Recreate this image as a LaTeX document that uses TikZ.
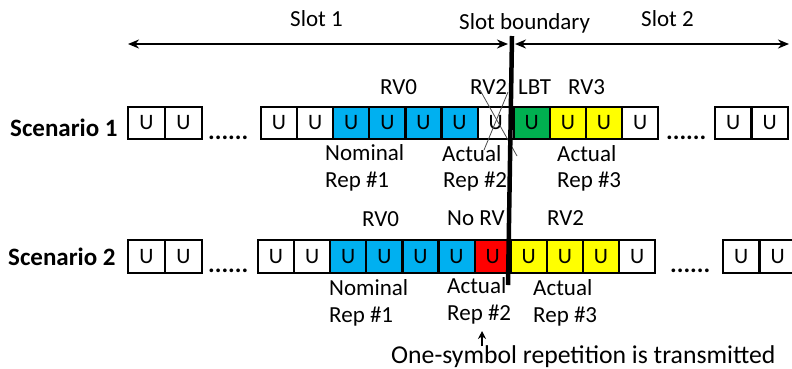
\documentclass[tikz,border=0pt]{standalone}
\usepackage{fontspec}
\setmainfont{Carlito}
\usetikzlibrary{arrows.meta}
\definecolor{cblue}{HTML}{00B0F0}
\definecolor{cgreen}{HTML}{00B050}
\definecolor{cyellow}{HTML}{FFFF00}
\definecolor{cred}{HTML}{FF0000}
\tikzset{
  cell/.style={draw=black, line width=2.2pt, minimum width=#1, minimum height=32pt,
    inner sep=0pt, outer sep=0pt, anchor=north west, font=\fontsize{22}{22}\selectfont},
  lbl/.style={inner sep=0pt, anchor=base west, font=\fontsize{23}{23}\selectfont},
  notelbl/.style={inner sep=0pt, anchor=base west, font=\fontsize{25.7}{25.7}\selectfont},
  scen/.style={inner sep=0pt, anchor=base west, font=\fontsize{25}{25}\selectfont\bfseries},
  dots/.style={inner sep=0pt, anchor=base west, font=\fontsize{25}{25}\selectfont\bfseries},
  slotarrow/.style={line width=2.2pt, {Stealth[length=11pt,width=9pt]}-{Stealth[length=11pt,width=9pt]}},
  crossline/.style={line width=0.8pt, draw=black!70},
}
\begin{document}
\begin{tikzpicture}[x=1pt,y=-1pt]
\clip (0,0) rectangle (792,368);
\useasboundingbox (0,0) rectangle (792,368);

% Slot labels and arrows
\node[lbl] (slot1) at (290,26) {Slot 1};
\node[lbl] (slotb) at (459,29) {Slot boundary};
\node[lbl] (slot2) at (641,26) {Slot 2};
\coordinate (a1l) at (128,44);
\coordinate (a1r) at (508,44);
\coordinate (a2l) at (515,44);
\coordinate (a2r) at (789,44);
\draw[slotarrow] (a1l) -- (a1r);
\draw[slotarrow] (a2l) -- (a2r);

% Scenario labels
\node[scen] (sc1) at (10,136) {Scenario 1};
\node[scen] (sc2) at (8,265) {Scenario 2};

% Scenario 1 cells
\foreach \c [count=\i from 0] in {white,white} {
  \node[cell=37pt, fill=\c] (pa\i) at ({128+37*\i},107) {U};
}
\foreach \c [count=\i from 0] in {white,white,cblue,cblue,cblue,cblue,white,cgreen,cyellow,cyellow,white} {
  \node[cell=36.1pt, fill=\c] (ma\i) at ({261+36.1*\i},107) {U};
}
\foreach \c [count=\i from 0] in {white,white} {
  \node[cell=36.5pt, fill=\c] (qa\i) at ({715+36.5*\i},107) {U};
}
\node[dots] (da1) at (208,139) {......};
\node[dots] (da2) at (666,139) {......};

% Scenario 2 cells
\foreach \c [count=\i from 0] in {white,white} {
  \node[cell=37pt, fill=\c, minimum height=33pt] (pb\i) at ({128+37*\i},240) {U};
}
\foreach \c [count=\i from 0] in {white,white,cblue,cblue,cblue,cblue,cred,cyellow,cyellow,cyellow,white} {
  \node[cell=36.1pt, fill=\c, minimum height=33pt] (mb\i) at ({258+36.1*\i},240) {U};
}
\foreach \c [count=\i from 0] in {white,white} {
  \node[cell=36.5pt, fill=\c, minimum height=33pt] (qb\i) at ({723+36.5*\i},240) {U};
}
\node[dots] (db1) at (208,272) {......};
\node[dots] (db2) at (670,272) {......};

% Scenario 1 labels
\node[lbl] (rv0a) at (380,94) {RV0};
\node[lbl] (rv2a) at (470,94) {RV2};
\node[lbl] (lbt) at (518,94) {LBT};
\node[lbl] (rv3a) at (568,94) {RV3};
\node[lbl] (noma) at (325,160) {Nominal};
\node[lbl] (rep1a) at (325,187) {Rep \#1};
\node[lbl] (act2a) at (442,161) {Actual};
\node[lbl] (rep2a) at (443,187) {Rep \#2};
\node[lbl] (act3a) at (557,161) {Actual};
\node[lbl] (rep3a) at (557,187) {Rep \#3};

% crossed-out cell
\coordinate (x1a) at (484,150);
\coordinate (x1b) at (508,92);
\coordinate (x2a) at (480,90);
\coordinate (x2b) at (517,156);
\draw[crossline] (x1a) -- (x1b);
\draw[crossline] (x2a) -- (x2b);

% Scenario 2 labels
\node[lbl] (rv0b) at (362,226) {RV0};
\node[lbl] (norv) at (447,225) {No RV};
\node[lbl] (rv2b) at (547,225) {RV2};
\node[lbl] (nomb) at (329,295) {Nominal};
\node[lbl] (rep1b) at (329,322) {Rep \#1};
\node[lbl] (act2b) at (447,293) {Actual};
\node[lbl] (rep2b) at (447,320) {Rep \#2};
\node[lbl] (act3b) at (533,295) {Actual};
\node[lbl] (rep3b) at (533,322) {Rep \#3};

% slot boundary thick line
\coordinate (bt) at (512,36);
\coordinate (bb) at (508,285);
\draw[line width=4.5pt] (bt) -- (bb);

% note
\node[notelbl] (note) at (391,363) {One-symbol repetition is transmitted};
\coordinate (na) at (482,346);
\coordinate (nb) at (482,331);
\draw[line width=1.8pt, -{Stealth[length=8pt,width=8pt]}] (na) -- (nb);
\end{tikzpicture}
\end{document}
